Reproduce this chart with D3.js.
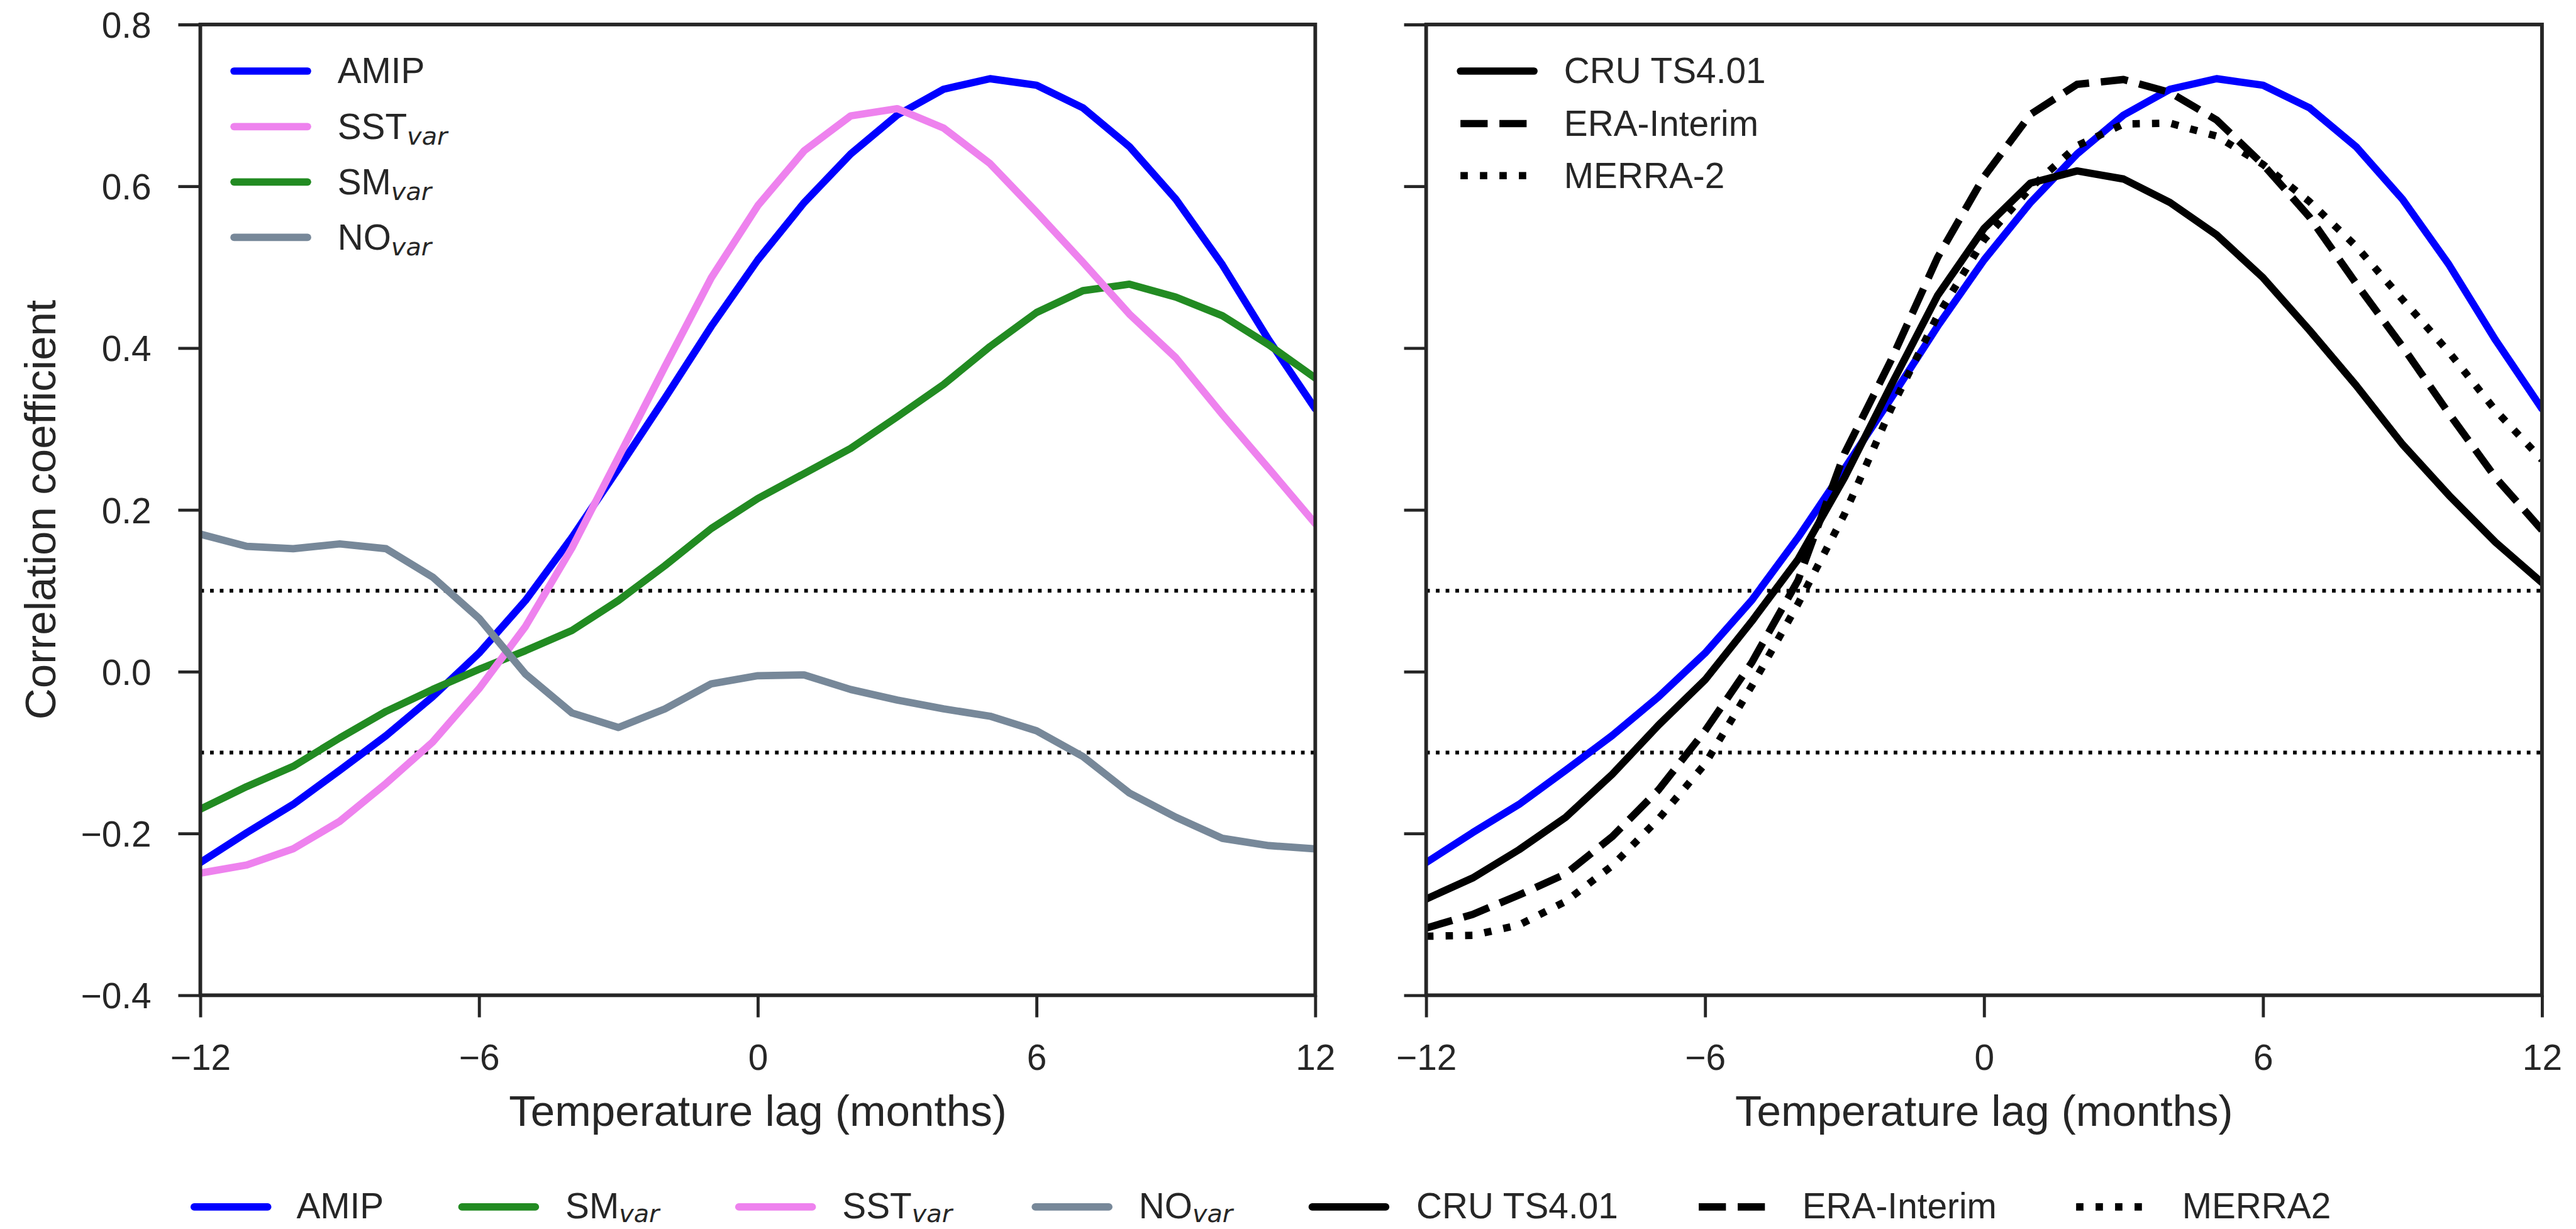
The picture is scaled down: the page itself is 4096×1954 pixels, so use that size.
<!DOCTYPE html>
<html><head><meta charset="utf-8">
<script src="https://cdn.jsdelivr.net/npm/d3@7"></script>
<style>html,body{margin:0;padding:0;background:#fff;} svg{display:block;}</style>
</head><body>
<svg id="chart" width="4096" height="1954"></svg>
<script>
// ---------- data ----------
const lags = [-12,-11,-10,-9,-8,-7,-6,-5,-4,-3,-2,-1,0,1,2,3,4,5,6,7,8,9,10,11,12];
const amip  = [-0.236,-0.199,-0.164,-0.122,-0.079,-0.031,0.023,0.088,0.166,0.251,0.338,0.427,0.509,0.580,0.640,0.688,0.720,0.733,0.725,0.697,0.649,0.584,0.503,0.410,0.325];
const smVar = [-0.170,-0.142,-0.117,-0.082,-0.049,-0.022,0.003,0.026,0.051,0.088,0.131,0.177,0.214,0.245,0.276,0.315,0.355,0.402,0.444,0.471,0.479,0.463,0.440,0.404,0.363];
const sstVar= [-0.249,-0.239,-0.219,-0.185,-0.138,-0.087,-0.021,0.056,0.153,0.265,0.377,0.487,0.576,0.644,0.687,0.696,0.672,0.628,0.568,0.506,0.442,0.388,0.318,0.251,0.183];
const noVar = [0.170,0.155,0.152,0.158,0.152,0.117,0.066,-0.003,-0.051,-0.069,-0.046,-0.015,-0.005,-0.004,-0.022,-0.035,-0.046,-0.055,-0.073,-0.105,-0.150,-0.180,-0.206,-0.215,-0.219];
const cru   = [-0.281,-0.255,-0.220,-0.180,-0.127,-0.066,-0.010,0.062,0.139,0.240,0.354,0.465,0.548,0.604,0.619,0.609,0.580,0.540,0.487,0.422,0.354,0.281,0.218,0.160,0.110];
const era   = [-0.317,-0.300,-0.276,-0.250,-0.204,-0.146,-0.073,0.011,0.113,0.270,0.385,0.512,0.612,0.689,0.726,0.732,0.716,0.682,0.627,0.562,0.480,0.402,0.319,0.240,0.175];
const merra = [-0.327,-0.326,-0.313,-0.284,-0.240,-0.182,-0.114,-0.018,0.084,0.195,0.325,0.440,0.534,0.598,0.650,0.677,0.678,0.662,0.627,0.581,0.526,0.460,0.395,0.323,0.262];

const xTicks = [-12,-6,0,6,12];
const yTicks = [-0.4,-0.2,0.0,0.2,0.4,0.6,0.8];
const refLines = [0.1,-0.1];
const xLabel = "Temperature lag (months)";
const yLabel = "Correlation coefficient";

// series definitions: name, subscript, values, colour, style
const leftSeries = [
  {name:"AMIP", sub:"", values:amip,  color:"#0000ff", style:"solid"},
  {name:"SM",   sub:"var", values:smVar, color:"#228b22", style:"solid"},
  {name:"SST",  sub:"var", values:sstVar,color:"#ee82ee", style:"solid"},
  {name:"NO",   sub:"var", values:noVar, color:"#778899", style:"solid"}
];
const leftLegendOrder = ["AMIP","SST","SM","NO"];
const rightSeries = [
  {name:"AMIP", sub:"", values:amip, color:"#0000ff", style:"solid", legend:false},
  {name:"CRU TS4.01", sub:"", values:cru, color:"#000000", style:"solid", legend:true},
  {name:"ERA-Interim", sub:"", values:era, color:"#000000", style:"dashed", legend:true},
  {name:"MERRA-2", sub:"", values:merra, color:"#000000", style:"dotted", legend:true}
];
const bottomLegend = [
  {name:"AMIP", sub:"", color:"#0000ff", style:"solid"},
  {name:"SM", sub:"var", color:"#228b22", style:"solid"},
  {name:"SST", sub:"var", color:"#ee82ee", style:"solid"},
  {name:"NO", sub:"var", color:"#778899", style:"solid"},
  {name:"CRU TS4.01", sub:"", color:"#000000", style:"solid"},
  {name:"ERA-Interim", sub:"", color:"#000000", style:"dashed"},
  {name:"MERRA2", sub:"", color:"#000000", style:"dotted"}
];

// ---------- layout (reference pixel space, scaled to window) ----------
const K = 4096/4205;
const FONT = "'Liberation Sans', Arial, Helvetica, sans-serif";
const SUBFONT = "'DejaVu Sans', sans-serif";
const INK = "#262626";
const FS = 58.3, FS_LABEL = 71, LW = 12;
const yTop = 40, yBot = 1624.5;
const panelX = [[327, 2147], [2328, 4149.5]];

const svg = d3.select("#chart");
const defs = svg.append("defs");
const root = svg.append("g").attr("transform", `scale(${K})`);

const y = d3.scaleLinear().domain([-0.4, 0.8]).range([yBot, yTop]);

function applyStyle(sel, style, color, lw) {
  sel.attr("stroke", color).attr("stroke-width", lw).attr("fill", "none")
     .attr("stroke-linejoin", "round");
  if (style === "solid") sel.attr("stroke-linecap", "round");
  else if (style === "dashed") sel.attr("stroke-dasharray", `${3.7*lw} ${1.6*lw}`).attr("stroke-linecap", "butt");
  else if (style === "dotted") sel.attr("stroke-dasharray", `${1*lw} ${1.65*lw}`).attr("stroke-linecap", "butt");
  return sel;
}

function addLabel(g, x, yb, item, subDy) {
  const t = g.append("text").attr("x", x).attr("y", yb)
    .attr("font-family", FONT).attr("font-size", FS).attr("fill", INK).text(item.name);
  if (item.sub) {
    t.append("tspan").attr("font-family", SUBFONT).attr("font-style", "italic")
      .attr("font-size", FS*0.7).attr("dy", subDy).text(item.sub);
  }
}

function drawPanel(idx, series, showYLabels) {
  const [x0, x1] = panelX[idx];
  const x = d3.scaleLinear().domain([-12, 12]).range([x0, x1]);
  const g = root.append("g");

  const clipId = "clip" + idx;
  g.append("clipPath").attr("id", clipId).append("rect")
    .attr("x", x0).attr("y", yTop).attr("width", x1 - x0).attr("height", yBot - yTop);
  const plot = g.append("g").attr("clip-path", `url(#${clipId})`);

  // reference dotted lines
  plot.selectAll("line.ref").data(refLines).join("line").attr("class","ref")
    .attr("x1", x0).attr("x2", x1).attr("y1", d => y(d)).attr("y2", d => y(d))
    .attr("stroke", "#000").attr("stroke-width", 6).attr("stroke-dasharray", "6 9.9");

  const line = d3.line().x((d, i) => x(lags[i])).y(d => y(d));
  series.forEach(s => {
    applyStyle(plot.append("path").datum(s.values).attr("d", line), s.style, s.color, LW);
  });

  // axes
  const yAxis = d3.axisLeft(y).tickValues(yTicks).tickSize(36).tickPadding(44)
    .tickFormat(showYLabels ? d3.format(".1f") : () => "");
  const ya = g.append("g").attr("transform", `translate(${x0},0)`).call(yAxis);
  const xAxis = d3.axisBottom(x).tickValues(xTicks).tickSize(36).tickPadding(44).tickFormat(d3.format("d"));
  const xa = g.append("g").attr("transform", `translate(0,${yBot})`).call(xAxis);
  [ya, xa].forEach(a => {
    a.select(".domain").remove();
    a.selectAll(".tick line").attr("stroke", INK).attr("stroke-width", 5);
    a.selectAll(".tick text").attr("fill", INK).attr("font-family", FONT).attr("font-size", FS);
  });
  ya.selectAll(".tick text").attr("dy", "0.36em");

  // frame
  g.append("rect").attr("x", x0).attr("y", yTop).attr("width", x1 - x0).attr("height", yBot - yTop)
    .attr("fill", "none").attr("stroke", INK).attr("stroke-width", 6);

  // x label
  g.append("text").attr("x", (x0 + x1) / 2).attr("y", 1838).attr("text-anchor", "middle")
    .attr("font-family", FONT).attr("font-size", FS_LABEL).attr("fill", INK).text(xLabel);
  return g;
}

drawPanel(0, leftSeries, true);
drawPanel(1, rightSeries, false);

// y label
root.append("text").attr("transform", `translate(90,832) rotate(-90)`).attr("text-anchor", "middle")
  .attr("font-family", FONT).attr("font-size", FS_LABEL).attr("fill", INK).text(yLabel);

// in-panel legends
const legL = root.append("g");
const rowsL = [116, 206.7, 297, 387.5];
leftLegendOrder.forEach((nm, i) => {
  const s = leftSeries.find(d => d.name === nm);
  applyStyle(legL.append("line").attr("x1", 382).attr("x2", 502).attr("y1", rowsL[i]).attr("y2", rowsL[i]), s.style, s.color, LW);
  addLabel(legL, 551, rowsL[i] + 20, s, 9);
});
const legR = root.append("g");
const rowsR = [116, 201.7, 286.7];
rightSeries.filter(s => s.legend).forEach((s, i) => {
  applyStyle(legR.append("line").attr("x1", 2384).attr("x2", 2504).attr("y1", rowsR[i]).attr("y2", rowsR[i]), s.style, s.color, LW);
  addLabel(legR, 2553, rowsR[i] + 20, s, 9);
});

// bottom legend
const legB = root.append("g");
const bStart = [317, 754, 1206, 1690, 2142, 2773, 3389];
const bText  = [484, 923, 1375, 1859, 2312, 2942, 3562];
const bY = 1970;
bottomLegend.forEach((s, i) => {
  applyStyle(legB.append("line").attr("x1", bStart[i]).attr("x2", bStart[i] + 120).attr("y1", bY).attr("y2", bY), s.style, s.color, LW);
  addLabel(legB, bText[i], bY + 19, s, 6);
});
</script>
</body></html>
